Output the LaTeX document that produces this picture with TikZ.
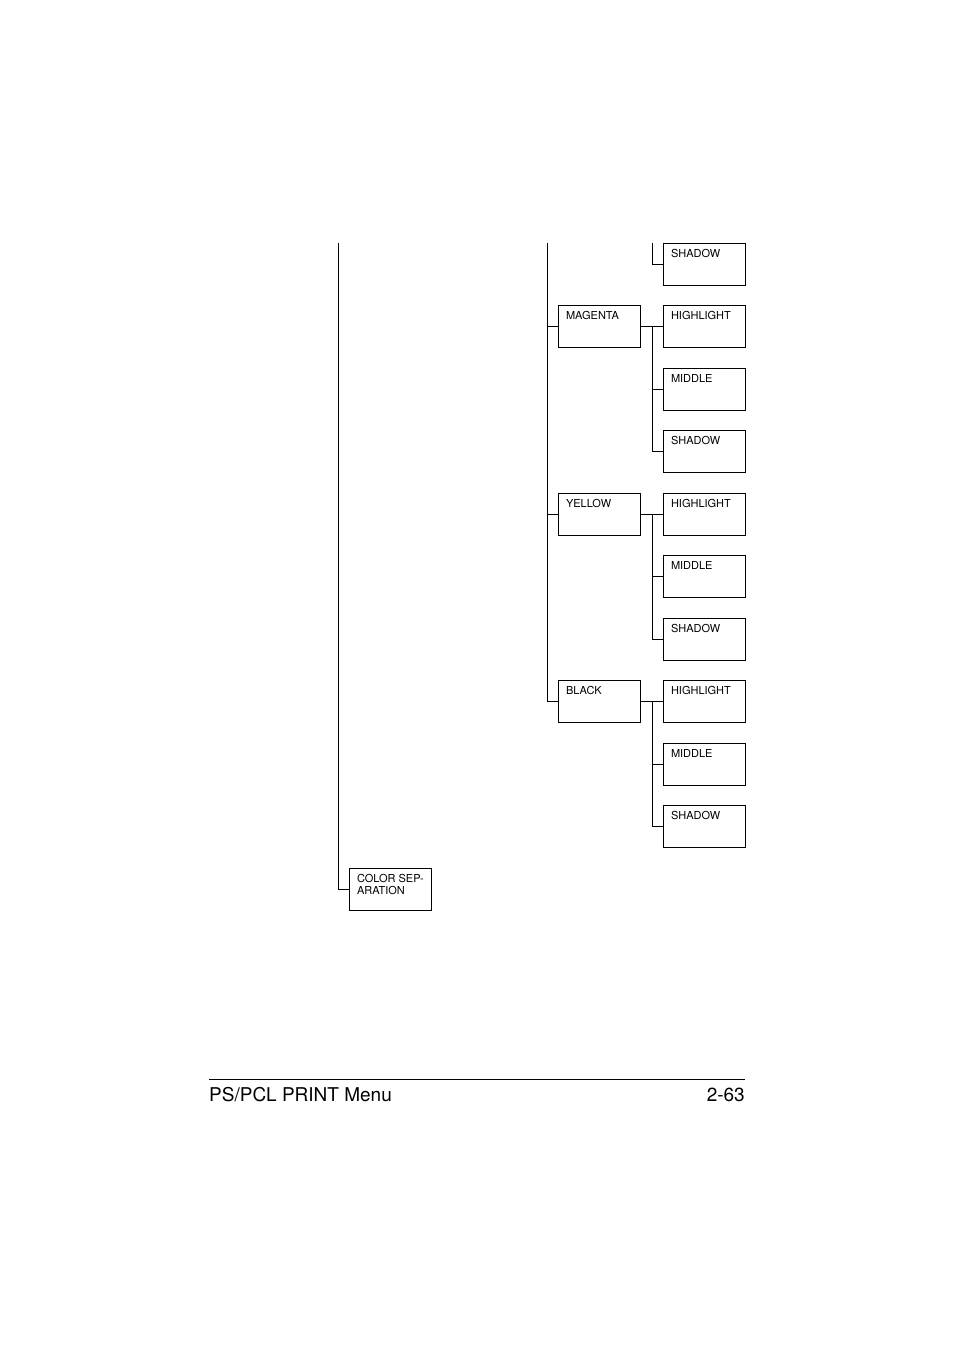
\documentclass[tikz,border=0pt]{standalone}
\usepackage{fontspec}
\setmainfont{TeX Gyre Heros}
\usetikzlibrary{positioning}
\tikzset{%
  menubox/.style={rectangle, draw=black, line width=1pt, inner sep=0pt,
    font=\fontsize{11}{12}\selectfont,
    execute at begin node={\begin{minipage}[b][42pt][t]{82pt}\raggedright\leftskip=8pt\rule{0pt}{14pt}},
    execute at end node={\end{minipage}}},% menu entry, text top left
  %
  menuline/.style={draw=black, line width=1pt},
  footer/.style={font=\fontsize{19}{22}\selectfont, inner sep=0pt}}

\begin{document}
\begin{tikzpicture}[x=1pt,y=-1pt]
        \useasboundingbox (0,0) rectangle (954,1350);

        %Nodes
        \node[menubox] (shadowC) at (704,264) {SHADOW};

        \node[menubox] (magenta) at (599,326) {MAGENTA};
        \node[menubox] (highM) at (704,326) {HIGHLIGHT};
        \node[menubox] (middleM) at (704,389) {MIDDLE};
        \node[menubox] (shadowM) at (704,451) {SHADOW};

        \node[menubox] (yellow) at (599,514) {YELLOW};
        \node[menubox] (highY) at (704,514) {HIGHLIGHT};
        \node[menubox] (middleY) at (704,576) {MIDDLE};
        \node[menubox] (shadowY) at (704,639) {SHADOW};

        \node[menubox] (black) at (599,701) {BLACK};
        \node[menubox] (highK) at (704,701) {HIGHLIGHT};
        \node[menubox] (middleK) at (704,764) {MIDDLE};
        \node[menubox] (shadowK) at (704,826) {SHADOW};

        \node[menubox] (colorsep) at (390,889) {COLOR SEP-\\ARATION};

        \coordinate (railA) at (338,243);
        \coordinate (railB) at (547,243);
        \coordinate (railC) at (652,243);

        %Lines
        \draw[menuline] (railA) |- (colorsep.west);
        \draw[menuline] (railB) |- (black.west);
        \draw[menuline] (magenta.west) -- (magenta.west -| railB);
        \draw[menuline] (yellow.west) -- (yellow.west -| railB);

        \draw[menuline] (railC) |- (shadowC.west);

        \draw[menuline] (magenta.east) -- (highM.west);
        \draw[menuline] (magenta.east -| railC) |- (shadowM.west);
        \draw[menuline] (middleM.west -| railC) -- (middleM.west);

        \draw[menuline] (yellow.east) -- (highY.west);
        \draw[menuline] (yellow.east -| railC) |- (shadowY.west);
        \draw[menuline] (middleY.west -| railC) -- (middleY.west);

        \draw[menuline] (black.east) -- (highK.west);
        \draw[menuline] (black.east -| railC) |- (shadowK.west);
        \draw[menuline] (middleK.west -| railC) -- (middleK.west);

        %Footer
        \coordinate (ruleL) at (209,1079);
        \coordinate (ruleR) at (745,1079);
        \draw[menuline] (ruleL) -- (ruleR);
        \node[footer, anchor=base west] (title) at (209,1101) {PS/PCL PRINT Menu};
        \node[footer, anchor=base east] (page) at (745,1101) {2-63};
\end{tikzpicture}
\end{document}
